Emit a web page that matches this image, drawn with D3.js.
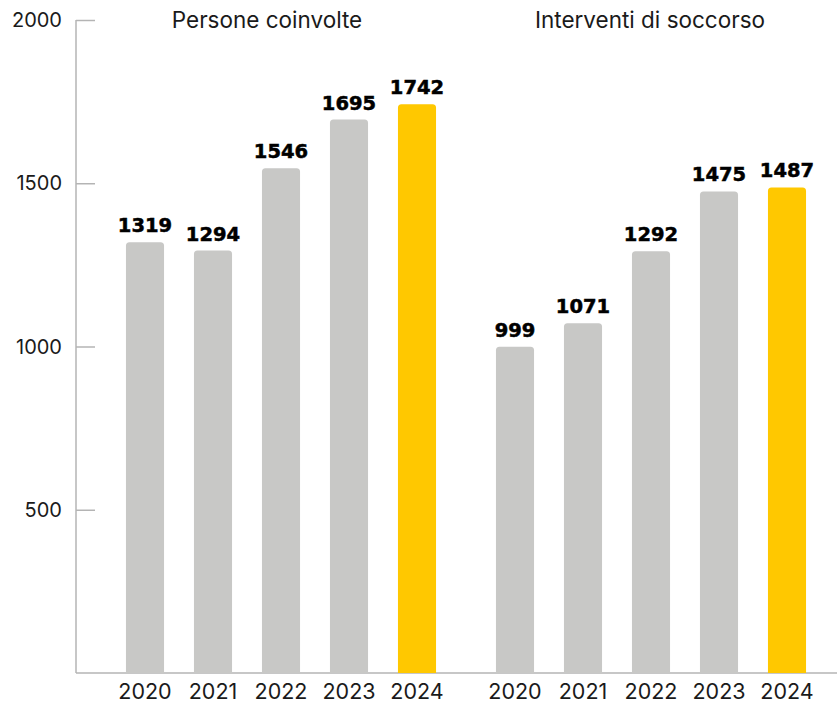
<!DOCTYPE html>
<html>
<head>
<meta charset="utf-8">
<script src="https://cdn.jsdelivr.net/npm/d3@7"></script>
<style>
  html, body { margin: 0; padding: 0; background: #fff; }
  svg { display: block; }
</style>
</head>
<body>
<div id="chart"></div>
<script>
const years = ["2020", "2021", "2022", "2023", "2024"];
const personeValues = [1319, 1294, 1546, 1695, 1742];
const interventiValues = [999, 1071, 1292, 1475, 1487];
const panelTitles = ["Persone coinvolte", "Interventi di soccorso"];
const yTicks = [500, 1000, 1500, 2000];
const highlightYear = "2024";

const W = 837, H = 704;
const svg = d3.select("#chart").append("svg").attr("width", W).attr("height", H);

const axisX = 76, baseY = 673, topY = 20;
const y = d3.scaleLinear().domain([0, 2000]).range([baseY, topY]);

const panels = [
  { title: panelTitles[0], values: personeValues, range: [111, 451], titleX: 267 },
  { title: panelTitles[1], values: interventiValues, range: [481, 821], titleX: 650 }
];

const grey = "#c8c8c6", yellow = "#ffc800", axisColor = "#b4b4b4";
const textFont = "Inter, 'Noto Sans', sans-serif";
const valueFont = "'DejaVu Sans', sans-serif";

// axis
const yAxis = d3.axisRight(y).tickValues(yTicks).tickSize(19).tickFormat("");
const ag = svg.append("g").attr("transform", `translate(${axisX},0)`).call(yAxis);
ag.select(".domain").remove();
ag.selectAll(".tick line").attr("stroke", axisColor).attr("stroke-width", 1.5);
svg.append("line").attr("x1", axisX).attr("x2", axisX).attr("y1", y(2000)).attr("y2", baseY)
  .attr("stroke", axisColor).attr("stroke-width", 1.5);
svg.append("line").attr("x1", axisX).attr("x2", W).attr("y1", baseY).attr("y2", baseY)
  .attr("stroke", axisColor).attr("stroke-width", 1.5);

svg.selectAll(".ylab").data(yTicks).enter().append("text")
  .attr("x", 62).attr("y", d => y(d)).attr("dy", "0.35em")
  .attr("text-anchor", "end")
  .attr("font-family", textFont).attr("font-size", 20).attr("fill", "#1a1a1a")
  .text(d => d);

function topRounded(x, yTop, w, h, r) {
  r = Math.min(r, h, w / 2);
  return `M${x},${yTop + h}V${yTop + r}Q${x},${yTop} ${x + r},${yTop}H${x + w - r}Q${x + w},${yTop} ${x + w},${yTop + r}V${yTop + h}Z`;
}

panels.forEach(p => {
  const x = d3.scaleBand().domain(years).range(p.range).paddingInner(0.44).paddingOuter(0.22);
  const data = years.map((yr, i) => ({ yr, v: p.values[i] }));
  const g = svg.append("g");
  g.selectAll("path.bar").data(data).enter().append("path")
    .attr("class", "bar")
    .attr("d", d => topRounded(x(d.yr), y(d.v), x.bandwidth(), baseY - y(d.v), 3.5))
    .attr("fill", d => d.yr === highlightYear ? yellow : grey);
  g.selectAll("text.val").data(data).enter().append("text")
    .attr("class", "val")
    .attr("x", d => x(d.yr) + x.bandwidth() / 2)
    .attr("y", d => y(d.v) - 10)
    .attr("text-anchor", "middle")
    .attr("font-family", valueFont).attr("font-weight", "bold").attr("font-size", 19.5)
    .attr("fill", "#000").attr("stroke", "#000").attr("stroke-width", 0.5)
    .text(d => d.v);
  g.selectAll("text.yr").data(data).enter().append("text")
    .attr("class", "yr")
    .attr("x", d => x(d.yr) + x.bandwidth() / 2)
    .attr("y", 699)
    .attr("text-anchor", "middle")
    .attr("font-family", textFont).attr("font-size", 21.5).attr("fill", "#1a1a1a")
    .text(d => d.yr);
  svg.append("text")
    .attr("x", p.titleX).attr("y", 28)
    .attr("text-anchor", "middle")
    .attr("font-family", textFont).attr("font-size", 22.5).attr("fill", "#1a1a1a")
    .text(p.title);
});
</script>
</body>
</html>
